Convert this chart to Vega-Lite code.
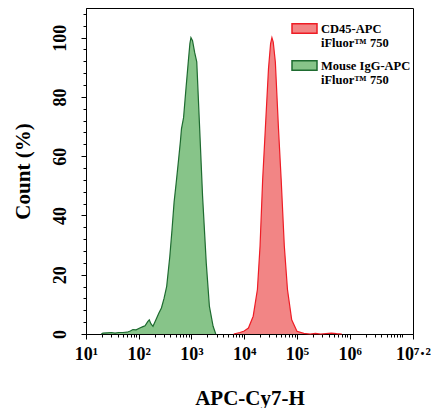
{
  "$schema": "https://vega.github.io/schema/vega-lite/v6.json",
  "width": 327,
  "height": 326,
  "autosize": {"type": "none"},
  "padding": {"left": 86, "top": 8, "right": 18, "bottom": 74},
  "background": "white",
  "config": {
    "view": {"stroke": "black", "strokeWidth": 1},
    "font": "Liberation Serif",
    "axis": {
      "domainColor": "black", "tickColor": "black", "grid": false, "zindex": 1,
      "labelFont": "Liberation Serif", "labelFontWeight": "bold", "labelFontSize": 18, "labelColor": "black",
      "titleFont": "Liberation Serif", "titleFontWeight": "bold", "titleFontSize": 21, "titleColor": "black"
    }
  },
  "data": {"values": [
    {"x": 19.5, "y": 0, "s": "Mouse IgG-APC iFluor™ 750"},
    {"x": 20.9, "y": 0.3, "s": "Mouse IgG-APC iFluor™ 750"},
    {"x": 25.1, "y": 0.4, "s": "Mouse IgG-APC iFluor™ 750"},
    {"x": 30.2, "y": 0.5, "s": "Mouse IgG-APC iFluor™ 750"},
    {"x": 35.5, "y": 0.3, "s": "Mouse IgG-APC iFluor™ 750"},
    {"x": 41.7, "y": 0.5, "s": "Mouse IgG-APC iFluor™ 750"},
    {"x": 50.1, "y": 0.5, "s": "Mouse IgG-APC iFluor™ 750"},
    {"x": 60.3, "y": 0.6, "s": "Mouse IgG-APC iFluor™ 750"},
    {"x": 69.2, "y": 1.0, "s": "Mouse IgG-APC iFluor™ 750"},
    {"x": 77.6, "y": 1.5, "s": "Mouse IgG-APC iFluor™ 750"},
    {"x": 89.1, "y": 1.4, "s": "Mouse IgG-APC iFluor™ 750"},
    {"x": 104.7, "y": 2.0, "s": "Mouse IgG-APC iFluor™ 750"},
    {"x": 120.2, "y": 2.5, "s": "Mouse IgG-APC iFluor™ 750"},
    {"x": 131.8, "y": 2.8, "s": "Mouse IgG-APC iFluor™ 750"},
    {"x": 147.9, "y": 4.2, "s": "Mouse IgG-APC iFluor™ 750"},
    {"x": 158.5, "y": 4.8, "s": "Mouse IgG-APC iFluor™ 750"},
    {"x": 169.8, "y": 3.5, "s": "Mouse IgG-APC iFluor™ 750"},
    {"x": 186.2, "y": 2.6, "s": "Mouse IgG-APC iFluor™ 750"},
    {"x": 213.8, "y": 5.0, "s": "Mouse IgG-APC iFluor™ 750"},
    {"x": 239.9, "y": 7.0, "s": "Mouse IgG-APC iFluor™ 750"},
    {"x": 269.2, "y": 8.8, "s": "Mouse IgG-APC iFluor™ 750"},
    {"x": 302.0, "y": 12, "s": "Mouse IgG-APC iFluor™ 750"},
    {"x": 338.8, "y": 16.1, "s": "Mouse IgG-APC iFluor™ 750"},
    {"x": 389.0, "y": 26.3, "s": "Mouse IgG-APC iFluor™ 750"},
    {"x": 426.6, "y": 35, "s": "Mouse IgG-APC iFluor™ 750"},
    {"x": 467.7, "y": 44.4, "s": "Mouse IgG-APC iFluor™ 750"},
    {"x": 512.9, "y": 51, "s": "Mouse IgG-APC iFluor™ 750"},
    {"x": 562.3, "y": 57.9, "s": "Mouse IgG-APC iFluor™ 750"},
    {"x": 616.6, "y": 65, "s": "Mouse IgG-APC iFluor™ 750"},
    {"x": 645.7, "y": 69.2, "s": "Mouse IgG-APC iFluor™ 750"},
    {"x": 707.9, "y": 73, "s": "Mouse IgG-APC iFluor™ 750"},
    {"x": 785.2, "y": 82.7, "s": "Mouse IgG-APC iFluor™ 750"},
    {"x": 871.0, "y": 92, "s": "Mouse IgG-APC iFluor™ 750"},
    {"x": 933.3, "y": 98, "s": "Mouse IgG-APC iFluor™ 750"},
    {"x": 977.2, "y": 100, "s": "Mouse IgG-APC iFluor™ 750"},
    {"x": 1047.1, "y": 99, "s": "Mouse IgG-APC iFluor™ 750"},
    {"x": 1148.2, "y": 95, "s": "Mouse IgG-APC iFluor™ 750"},
    {"x": 1258.9, "y": 91.8, "s": "Mouse IgG-APC iFluor™ 750"},
    {"x": 1412.5, "y": 71.4, "s": "Mouse IgG-APC iFluor™ 750"},
    {"x": 1621.8, "y": 46.6, "s": "Mouse IgG-APC iFluor™ 750"},
    {"x": 1905.5, "y": 24, "s": "Mouse IgG-APC iFluor™ 750"},
    {"x": 2187.8, "y": 9.3, "s": "Mouse IgG-APC iFluor™ 750"},
    {"x": 2570.4, "y": 2.6, "s": "Mouse IgG-APC iFluor™ 750"},
    {"x": 2884.0, "y": 0, "s": "Mouse IgG-APC iFluor™ 750"},
    {"x": 6309.6, "y": 0, "s": "CD45-APC iFluor™ 750"},
    {"x": 8317.6, "y": 0.5, "s": "CD45-APC iFluor™ 750"},
    {"x": 10000, "y": 1.0, "s": "CD45-APC iFluor™ 750"},
    {"x": 12022.6, "y": 2, "s": "CD45-APC iFluor™ 750"},
    {"x": 14791.1, "y": 6, "s": "CD45-APC iFluor™ 750"},
    {"x": 17782.8, "y": 15, "s": "CD45-APC iFluor™ 750"},
    {"x": 19952.6, "y": 29.7, "s": "CD45-APC iFluor™ 750"},
    {"x": 22387.2, "y": 52.3, "s": "CD45-APC iFluor™ 750"},
    {"x": 25118.9, "y": 69.2, "s": "CD45-APC iFluor™ 750"},
    {"x": 28840.3, "y": 89.5, "s": "CD45-APC iFluor™ 750"},
    {"x": 31622.8, "y": 98, "s": "CD45-APC iFluor™ 750"},
    {"x": 33496.5, "y": 100, "s": "CD45-APC iFluor™ 750"},
    {"x": 35481.3, "y": 98.5, "s": "CD45-APC iFluor™ 750"},
    {"x": 38904.5, "y": 91.8, "s": "CD45-APC iFluor™ 750"},
    {"x": 44668.4, "y": 69.2, "s": "CD45-APC iFluor™ 750"},
    {"x": 50118.7, "y": 52.3, "s": "CD45-APC iFluor™ 750"},
    {"x": 57544.0, "y": 29.7, "s": "CD45-APC iFluor™ 750"},
    {"x": 66069.3, "y": 15, "s": "CD45-APC iFluor™ 750"},
    {"x": 79432.8, "y": 4.8, "s": "CD45-APC iFluor™ 750"},
    {"x": 100000, "y": 0.9, "s": "CD45-APC iFluor™ 750"},
    {"x": 134896, "y": 0.2, "s": "CD45-APC iFluor™ 750"},
    {"x": 177828, "y": 0, "s": "CD45-APC iFluor™ 750"},
    {"x": 223872, "y": 0.2, "s": "CD45-APC iFluor™ 750"},
    {"x": 281838, "y": 0, "s": "CD45-APC iFluor™ 750"},
    {"x": 446684, "y": 0.3, "s": "CD45-APC iFluor™ 750"},
    {"x": 562341, "y": 0.1, "s": "CD45-APC iFluor™ 750"},
    {"x": 707946, "y": 0, "s": "CD45-APC iFluor™ 750"}
  ]},
  "layer": [
    {
      "mark": {"type": "area", "fillOpacity": 1},
      "encoding": {
        "x": {
          "field": "x", "type": "quantitative",
          "scale": {"type": "log", "domain": [10, 15848932], "nice": false},
          "axis": {
            "orient": "bottom",
            "values": [10, 100, 1000, 10000, 100000, 1000000, 15848932],
            "labelExpr": "datum.value < 50 ? '10¹' : datum.value < 500 ? '10²' : datum.value < 5000 ? '10³' : datum.value < 50000 ? '10⁴' : datum.value < 500000 ? '10⁵' : datum.value < 5000000 ? '10⁶' : '10⁷·²'",
            "labelFlush": false, "labelOverlap": false, "tickSize": 5,
            "labelPadding": 6, "title": "APC-Cy7-H", "titlePadding": 24
          }
        },
        "y": {
          "field": "y", "type": "quantitative",
          "scale": {"domain": [0, 110], "nice": false},
          "axis": {
            "orient": "left",
            "values": [0, 20, 40, 60, 80, 100],
            "labelAngle": -90, "tickSize": 5, "labelPadding": 12,
            "title": "Count (%)", "titlePadding": 18
          }
        },
        "fill": {
          "field": "s", "type": "nominal",
          "scale": {"domain": ["CD45-APC iFluor™ 750", "Mouse IgG-APC iFluor™ 750"], "range": ["#f28585", "#87c489"]},
          "legend": {
            "title": null, "orient": "none", "legendX": 205, "legendY": 7,
            "symbolType": "M-1,-0.38H1V0.38H-1Z", "symbolSize": 625, "symbolStrokeWidth": 1.5,
            "labelExpr": "[replace(datum.label, ' iFluor™ 750', ''), 'iFluor™ 750']",
            "labelFont": "Liberation Serif", "labelFontWeight": "bold", "labelFontSize": 12.5, "labelColor": "black",
            "labelLimit": 0, "labelOffset": 3, "rowPadding": 2
          }
        }
      }
    },
    {
      "mark": {"type": "line", "strokeWidth": 1.2},
      "encoding": {
        "x": {"field": "x", "type": "quantitative", "axis": null},
        "y": {"field": "y", "type": "quantitative", "axis": null},
        "stroke": {
          "field": "s", "type": "nominal",
          "scale": {"domain": ["CD45-APC iFluor™ 750", "Mouse IgG-APC iFluor™ 750"], "range": ["#ee1c25", "#1e6b30"]},
          "legend": {
            "title": null, "orient": "none", "legendX": 205, "legendY": 7,
            "symbolType": "M-1,-0.38H1V0.38H-1Z", "symbolSize": 625, "symbolStrokeWidth": 1.5,
            "labelExpr": "[replace(datum.label, ' iFluor™ 750', ''), 'iFluor™ 750']",
            "labelFont": "Liberation Serif", "labelFontWeight": "bold", "labelFontSize": 12.5, "labelColor": "black",
            "labelLimit": 0, "labelOffset": 3, "rowPadding": 2
          }
        }
      }
    },
    {
      "mark": {"type": "area", "opacity": 0},
      "encoding": {
        "x": {
          "field": "x", "type": "quantitative",
          "axis": {
            "orient": "bottom", "labels": false, "title": null, "domain": false, "tickSize": 3,
            "values": [20,30,40,50,60,70,80,90,200,300,400,500,600,700,800,900,2000,3000,4000,5000,6000,7000,8000,9000,20000,30000,40000,50000,60000,70000,80000,90000,200000,300000,400000,500000,600000,700000,800000,900000,2000000,3000000,4000000,5000000,6000000,7000000,8000000,9000000,10000000]
          }
        },
        "y": {
          "field": "y", "type": "quantitative",
          "axis": {
            "orient": "left", "labels": false, "title": null, "domain": false, "tickSize": 3,
            "values": [4,8,12,16,24,28,32,36,44,48,52,56,64,68,72,76,84,88,92,96,104,108]
          }
        }
      }
    }
  ],
  "resolve": {"axis": {"x": "independent", "y": "independent"}}
}
